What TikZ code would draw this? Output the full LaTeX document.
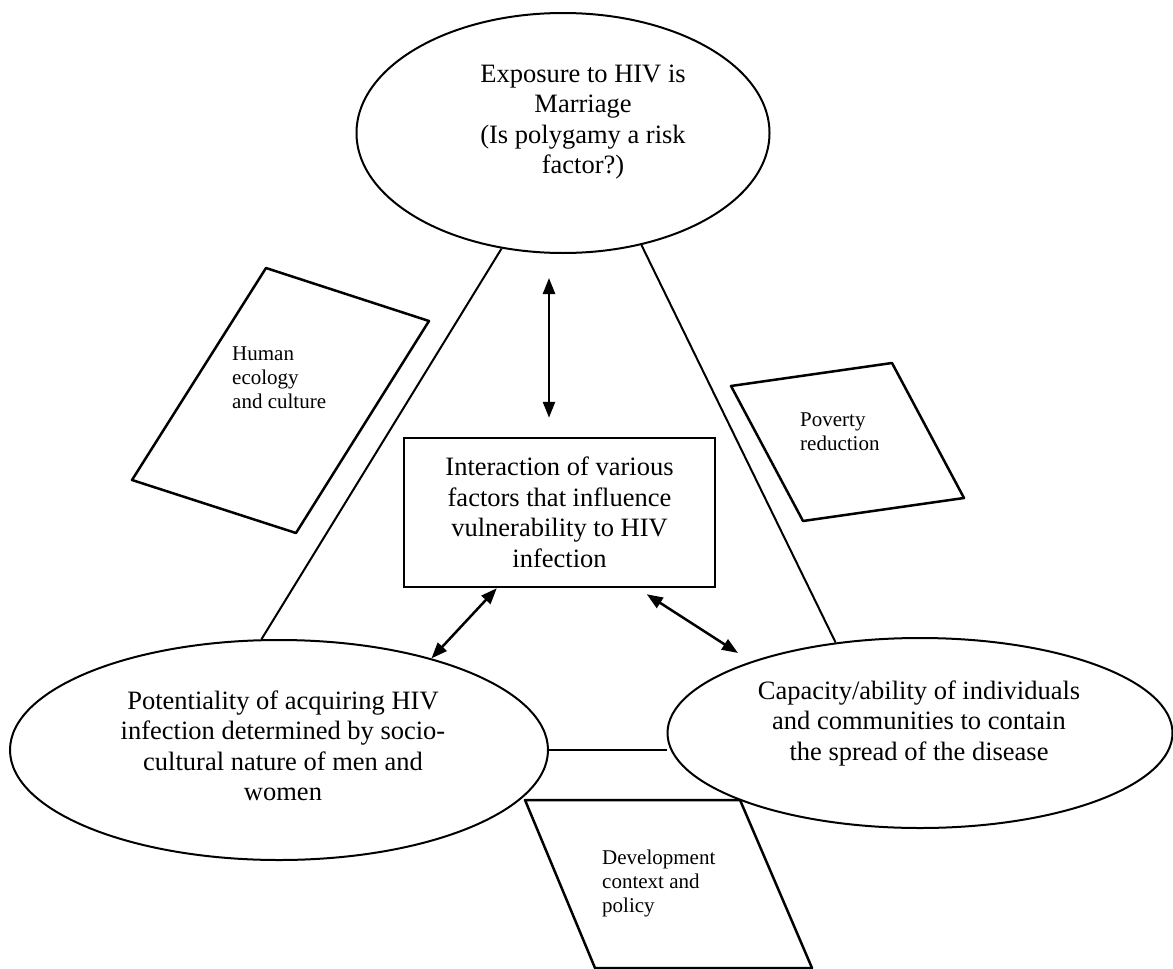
\documentclass[tikz,border=0pt]{standalone}
\usepackage{fontspec}
\setmainfont{Liberation Serif}
\usetikzlibrary{arrows.meta,shapes.geometric}
\begin{document}
\begin{tikzpicture}[x=1pt,y=-1pt,
  oval/.style={draw, ellipse, line width=2pt, inner sep=0pt},
  bigtext/.style={font=\fontsize{26.5}{30.5}\selectfont, align=center, inner sep=0pt},
  smalltext/.style={font=\fontsize{21}{24}\selectfont, align=left, inner sep=0pt, anchor=north west},
  edge/.style={line width=2pt},
  dbl/.style={line width=2.5pt, {Triangle[length=16pt,width=12pt]}-{Triangle[length=16pt,width=12pt]}},
  panel/.style={draw, line width=2.5pt, line join=round}]
\useasboundingbox (0,0) rectangle (1173,969);

% ellipses
\node[oval, minimum width=413pt, minimum height=240pt] (top) at (563,133) {};
\node[bigtext] (toptxt) at (583,122) {Exposure to HIV is\\Marriage\\(Is polygamy a risk\\factor?)};

\node[oval, minimum width=538pt, minimum height=220pt] (L) at (279,750) {};
\node[bigtext] (Ltxt) at (283,746) {Potentiality of acquiring HIV\\infection determined by socio-\\cultural nature of men and\\women};

\node[oval, minimum width=505pt, minimum height=190pt] (R) at (920,733) {};
\node[bigtext] (Rtxt) at (919,723) {Capacity/ability of individuals\\and communities to contain\\the spread of the disease};

% central box
\node[draw, line width=2.5pt, minimum width=311pt, minimum height=149pt, inner sep=0pt,
      font=\fontsize{26.5}{30.5}\selectfont, align=center] (box) at (559.5,512.5)
  {Interaction of various\\factors that influence\\vulnerability to HIV\\infection};

% parallelograms
\draw[panel] (266,268) -- (429,321) -- (296,533) -- (132,480) -- cycle;
\node[smalltext] (human) at (232,347) {Human\\ecology\\and culture};

\draw[panel] (731,386) -- (892,363) -- (964,498) -- (803,521) -- cycle;
\node[smalltext] (pov) at (800,413) {Poverty\\reduction};

\draw[panel] (525,800) -- (740,800) -- (812,968) -- (595,968) -- cycle;
\node[smalltext] (dev) at (602,850) {Development\\context and\\policy};

% triangle lines
\draw[edge] (top.-118) -- (L.99);
\draw[edge] (top.-55) -- (R.133);
\draw[edge] (L.east) -- (L.east -| R.west);

% arrows
\draw[dbl] ([xshift=-14pt,yshift=-24pt]top.south) -- ([xshift=-10.5pt,yshift=19pt]box.north);
\draw[dbl] ([xshift=94pt]box.south west) -- (L.31);
\coordinate (rtip) at (738,653);
\draw[dbl] ([xshift=244pt,yshift=-6pt]box.south west) -- (rtip);
\end{tikzpicture}
\end{document}
